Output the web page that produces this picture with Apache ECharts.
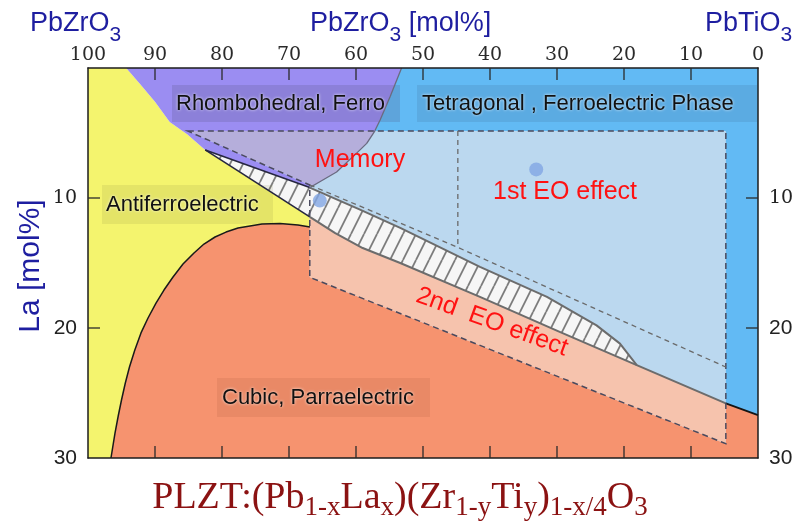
<!DOCTYPE html>
<html>
<head>
<meta charset="utf-8">
<title>PLZT phase diagram</title>
<script src="https://cdn.jsdelivr.net/npm/echarts@6.0.0/dist/echarts.min.js"></script>
<style>
  html, body { margin: 0; padding: 0; background: #fff; }
  #chart { width: 803px; height: 523px; }
</style>
</head>
<body>
<div id="chart"></div>
<script>
// Composition axes: x = PbZrO3 share [mol%] (100 at the left), y = La content [mol%] (0 at the top)
const zrInnerTicks = [90, 80, 70, 60, 50, 40, 30, 20, 10];
const laInnerTicks = [10, 20];
const laTickLabels = [10, 20, 30];

// Phase boundaries, as [PbZrO3 mol%, La mol%]
const afeRhomboBoundary = [[94.3, 0], [92.2, 1.25], [90.0, 2.6], [87.8, 4.15], [85.2, 5.1], [82.5, 6.3]];
const afeCubicBoundary = [[96.57, 30], [95.97, 28.08], [95.49, 26.77], [95.0, 25.54], [94.43, 24.23],
  [93.81, 23.0], [93.01, 21.69], [92.09, 20.38], [91.04, 19.23], [89.85, 18.08], [88.66, 17.08],
  [87.31, 16.08], [85.82, 15.08], [84.18, 14.23], [82.69, 13.54], [81.04, 13.0], [79.4, 12.62],
  [77.61, 12.31], [74.03, 12.0], [71.34, 11.96], [68.66, 12.08], [66.87, 12.23]];
const rhomboTetraBoundary = [[53.2, 0], [53.9, 0.9], [54.9, 2.2], [56.4, 4.0], [57.2, 4.85], [58.4, 5.8],
  [59.9, 6.55], [62.9, 8.0], [65.4, 8.75], [66.9, 9.2]];
const twoPhaseUpper = [[82.5, 6.3], [66.9, 9.2], [59.4, 10.9], [53.4, 12.3], [41.5, 15.3], [31.5, 17.6],
  [24.1, 19.8], [20.6, 21.2], [18.1, 22.85]];
const ferroCubicBoundary = [[82.5, 6.3], [66.9, 11.45], [63.1, 12.7], [59.0, 13.85], [53.4, 15.0], [41.5, 17.6],
  [29.6, 20.3], [18.1, 22.85], [4.8, 25.8], [0, 26.7]];

// Electro-optic application zones (dashed outlines)
const eoZone = [[85.1, 4.85], [4.8, 4.85], [4.8, 28.9], [66.9, 16.1], [66.9, 9.0]];
const memoryDivider = [[44.8, 4.85], [44.8, 13.8]];
const eoSplit = [[66.9, 9.0], [44.8, 13.8], [4.8, 23.0]];

// Marked compositions
const sampleComps = [[65.4, 10.2], [33.1, 7.8]];

// ---- polygons assembled from the boundaries ----
const rev = a => a.slice().reverse();
const tipIdx = ferroCubicBoundary.findIndex(p => p[0] === twoPhaseUpper[twoPhaseUpper.length - 1][0]);

const afePoly = [[100, 0], ...afeRhomboBoundary, ferroCubicBoundary[1], ...rev(afeCubicBoundary), [100, 30]];
const rhomboPoly = [...afeRhomboBoundary, ...rev(rhomboTetraBoundary)];
const tetraPoly = [...rhomboTetraBoundary, ...twoPhaseUpper.slice(2), ...ferroCubicBoundary.slice(tipIdx + 1), [0, 0]];
const cubicPoly = [...afeCubicBoundary, ...ferroCubicBoundary.slice(1), [0, 30]];
const twoPhasePoly = [...twoPhaseUpper, ...rev(ferroCubicBoundary.slice(0, tipIdx))];

const eoOverRhombo = [eoZone[0], ...rhomboTetraBoundary.slice(4), eoZone[4]];
const eoOverCubic = [...ferroCubicBoundary.slice(1, tipIdx + 2), eoZone[2], eoZone[3]];

// diagonal hatching for the two-phase band
function hatchTile() {
  const w = 13, h = 26;
  const c = document.createElement('canvas');
  c.width = w; c.height = h;
  const ctx = c.getContext('2d');
  ctx.fillStyle = '#f6f6f6';
  ctx.fillRect(0, 0, w, h);
  ctx.strokeStyle = '#7c7c7c';
  ctx.lineWidth = 1.8;
  for (let k = -1; k <= 1; k++) {
    ctx.beginPath();
    ctx.moveTo(k * w, h);
    ctx.lineTo(k * w + w, 0);
    ctx.stroke();
  }
  return c;
}
const hatchFill = { image: hatchTile(), repeat: 'repeat' };

function layer(name, z, items) {
  return {
    type: 'custom', name, z, silent: true, animation: false,
    coordinateSystem: 'cartesian2d', xAxisIndex: 0, yAxisIndex: 0,
    data: items.map(() => [50, 15]),
    renderItem(params, api) {
      const it = items[params.dataIndex];
      const points = it.pts.map(p => api.coord(p));
      if (it.kind === 'line') {
        return {
          type: 'polyline', z2: params.dataIndex, shape: { points },
          style: { fill: 'none', stroke: it.color, lineWidth: it.width, lineDash: it.dash || null, lineJoin: 'round' }
        };
      }
      return {
        type: 'polygon', z2: params.dataIndex, shape: { points },
        style: { fill: it.fill, stroke: it.stroke || null, lineWidth: it.width || 0, lineDash: it.dash || null }
      };
    }
  };
}

// inward tick marks on all four sides of the frame
const TICK_LEN = 12;
const tickItems = [
  ...zrInnerTicks.map(v => ({ at: [v, 0], d: [0, 1] })),
  ...zrInnerTicks.map(v => ({ at: [v, 30], d: [0, -1] })),
  ...laInnerTicks.map(v => ({ at: [100, v], d: [1, 0] })),
  ...laInnerTicks.map(v => ({ at: [0, v], d: [-1, 0] }))
];
const tickSeries = {
  type: 'custom', name: 'ticks', z: 40, silent: true, animation: false,
  coordinateSystem: 'cartesian2d', xAxisIndex: 0, yAxisIndex: 0,
  data: tickItems.map(() => [50, 15]),
  renderItem(params, api) {
    const t = tickItems[params.dataIndex];
    const p = api.coord(t.at);
    return {
      type: 'line',
      shape: { x1: p[0], y1: p[1], x2: p[0] + t.d[0] * TICK_LEN, y2: p[1] + t.d[1] * TICK_LEN },
      style: { stroke: '#2a2a2a', lineWidth: 1.3 }
    };
  }
};

const navy = '#1e1ea0';
const sans = '"Liberation Sans", Arial, sans-serif';
const serif = '"Liberation Serif", "Times New Roman", serif';

function titleRich(size, sub, shift, color, family) {
  return {
    m: { fontSize: size, fontFamily: family, fill: color },
    s: { fontSize: sub, fontFamily: family, fill: color, padding: [shift * 2, 0, 0, 0] }
  };
}

function boxedLabel(x0, y0, w, h, fill, text, tx) {
  return [
    { type: 'rect', z: 4, shape: { x: x0, y: y0, width: w, height: h }, style: { fill } },
    { type: 'text', z: 20, x: tx, y: y0 + h / 2,
      style: { text, font: '22px ' + sans, fill: '#111', align: 'left', verticalAlign: 'middle',
        textShadowColor: 'rgba(255,255,255,0.85)', textShadowBlur: 3 } }
  ];
}

const axisLineStyle = { show: true, onZero: false, lineStyle: { color: '#1c1c1c', width: 1.5 } };
const tickStyle = { show: false };
const laLabel = v => {
  if (laTickLabels.indexOf(v) < 0) return '';
  return v === 10 ? '{sf|' + v + '}' : '{ss|' + v + '}';
};
const laRich = {
  sf: { fontFamily: '"DejaVu Serif", serif', fontSize: 19, color: '#222' },
  ss: { fontFamily: sans, fontSize: 21, color: '#222' }
};

const option = {
  animation: false,
  backgroundColor: '#ffffff',
  grid: { left: 88, top: 68, width: 670, height: 390, containLabel: false, outerBoundsMode: 'none' },
  xAxis: [
    { type: 'value', position: 'top', min: 0, max: 100, interval: 10, inverse: true, z: 30,
      axisLine: axisLineStyle, axisTick: tickStyle, splitLine: { show: false },
      axisLabel: { show: true, margin: 3, fontFamily: '"DejaVu Serif", serif', fontSize: 19, color: '#2a2a2a',
        showMinLabel: true, showMaxLabel: true } },
    { type: 'value', position: 'bottom', min: 0, max: 100, interval: 10, inverse: true, z: 30,
      axisLine: axisLineStyle, axisTick: tickStyle, splitLine: { show: false }, axisLabel: { show: false } }
  ],
  yAxis: [
    { type: 'value', position: 'left', min: 0, max: 30, interval: 10, inverse: true, z: 30,
      axisLine: axisLineStyle, axisTick: tickStyle, splitLine: { show: false },
      axisLabel: { margin: 11, formatter: laLabel, rich: laRich, showMinLabel: true, showMaxLabel: true } },
    { type: 'value', position: 'right', min: 0, max: 30, interval: 10, inverse: true, z: 30,
      axisLine: axisLineStyle, axisTick: tickStyle, splitLine: { show: false },
      axisLabel: { margin: 11, formatter: laLabel, rich: laRich, showMinLabel: true, showMaxLabel: true } }
  ],
  series: [
    layer('phases', 1, [
      { pts: afePoly, fill: '#f4f46e' },
      { pts: rhomboPoly, fill: '#9b8df2' },
      { pts: tetraPoly, fill: '#62baf4' },
      { pts: cubicPoly, fill: '#f6936f' }
    ]),
    layer('eo zones', 2, [
      { pts: eoZone, fill: '#bbd8ef' },
      { pts: eoOverRhombo, fill: '#b5aedb' },
      { pts: eoOverCubic, fill: '#f6c3ad' }
    ]),
    layer('two-phase band', 3, [
      { pts: twoPhasePoly, fill: hatchFill }
    ]),
    layer('boundaries', 5, [
      { kind: 'line', pts: afeCubicBoundary, color: '#1a1a1a', width: 1.5 },
      { kind: 'line', pts: twoPhaseUpper.slice(0, 2), color: '#262640', width: 1.6 },
      { kind: 'line', pts: ferroCubicBoundary.slice(0, 2), color: '#262640', width: 1.6 },
      { kind: 'line', pts: twoPhaseUpper.slice(1), color: '#6c6c6c', width: 2 },
      { kind: 'line', pts: ferroCubicBoundary.slice(1, tipIdx + 2), color: '#6c6c6c', width: 2 },
      { kind: 'line', pts: ferroCubicBoundary.slice(tipIdx + 1), color: '#151515', width: 1.8 },
      { kind: 'line', pts: rhomboTetraBoundary, color: '#6a6a80', width: 1.3 },
      { pts: eoZone, fill: 'none', stroke: '#4a4a5e', width: 1.5, dash: [6, 4] },
      { kind: 'line', pts: memoryDivider, color: '#6a6a6a', width: 1.3, dash: [5, 4] },
      { kind: 'line', pts: eoSplit, color: '#6a6a6a', width: 1.3, dash: [5, 4] }
    ]),
    tickSeries,
    {
      type: 'scatter', name: 'compositions', z: 10, silent: true,
      data: sampleComps, symbol: 'circle', symbolSize: 14,
      itemStyle: { color: '#82a6e3' }
    }
  ],
  graphic: [
    ...boxedLabel(172, 85, 228, 37, 'rgba(80,80,120,0.2)', 'Rhombohedral, Ferro', 176),
    ...boxedLabel(417, 85, 340, 37, 'rgba(50,70,110,0.13)', 'Tetragonal , Ferroelectric Phase', 422),
    ...boxedLabel(102, 185, 171, 39, 'rgba(120,120,60,0.13)', 'Antiferroelectric', 106),
    ...boxedLabel(217, 378, 213, 39, 'rgba(120,50,30,0.1)', 'Cubic, Parraelectric', 222),
    { type: 'text', z: 20, x: 360, y: 160,
      style: { text: 'Memory', font: '25px ' + sans, fill: '#ff1212', align: 'center', verticalAlign: 'middle' } },
    { type: 'text', z: 20, x: 565, y: 192,
      style: { text: '1st EO effect', font: '25px ' + sans, fill: '#ff1212', align: 'center', verticalAlign: 'middle' } },
    { type: 'text', z: 20, x: 492, y: 322, rotation: -0.35,
      style: { text: '2nd  EO effect', font: '25px ' + sans, fill: '#ff1212', align: 'center', verticalAlign: 'middle' } },
    { type: 'text', z: 20, x: 30, y: 24,
      style: { text: '{m|PbZrO}{s|3}', rich: titleRich(27, 21, 11, navy, sans), align: 'left', verticalAlign: 'middle' } },
    { type: 'text', z: 20, x: 310, y: 24,
      style: { text: '{m|PbZrO}{s|3}{m| [mol%]}', rich: titleRich(27, 21, 11, navy, sans), align: 'left', verticalAlign: 'middle' } },
    { type: 'text', z: 20, x: 705, y: 24,
      style: { text: '{m|PbTiO}{s|3}', rich: titleRich(27, 21, 11, navy, sans), align: 'left', verticalAlign: 'middle' } },
    { type: 'text', z: 20, x: 31, y: 266, rotation: Math.PI / 2,
      style: { text: 'La [mol%]', font: '30px ' + sans, fill: navy, align: 'center', verticalAlign: 'middle' } },
    { type: 'text', z: 20, x: 400, y: 498,
      style: {
        text: '{m|PLZT:(Pb}{s|1-x}{m|La}{s|x}{m|)(Zr}{s|1-y}{m|Ti}{s|y}{m|)}{s|1-x/4}{m|O}{s|3}',
        rich: titleRich(38, 27, 10, '#8b1212', serif), align: 'center', verticalAlign: 'middle'
      } }
  ]
};

const chart = echarts.init(document.getElementById('chart'), null, { renderer: 'canvas' });
chart.setOption(option);
</script>
</body>
</html>
